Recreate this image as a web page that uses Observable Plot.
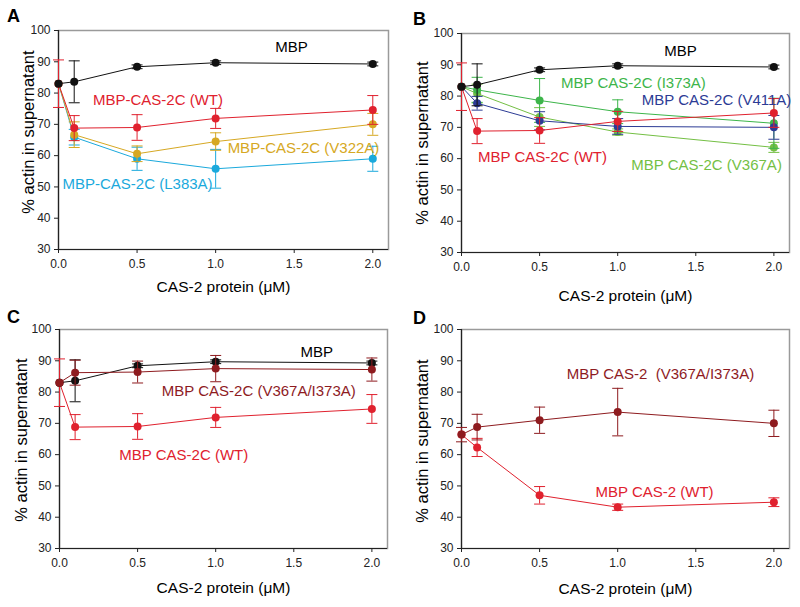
<!DOCTYPE html>
<html>
<head>
<meta charset="utf-8">
<script src="https://cdn.jsdelivr.net/npm/d3@7"></script>
<script src="https://cdn.jsdelivr.net/npm/@observablehq/plot@0.6"></script>
<style>
  body { margin: 0; background: #fff; }
  #wrap { position: relative; width: 800px; height: 607px; background: #fff; overflow: hidden; font-family: "Liberation Sans", Arial, sans-serif; }
  .panel { position: absolute; }
  .letter { position: absolute; font-weight: bold; font-size: 18px; line-height: 1; color: #000; font-family: "Liberation Sans", Arial, sans-serif; }
</style>
</head>
<body>
<div id="wrap"></div>
<script>
// ---------- data ----------
const conc = [0, 0.1, 0.5, 1.0, 2.0];
const yTicks = [30, 40, 50, 60, 70, 80, 90, 100];
const xTicks = [0, 0.5, 1.0, 1.5, 2.0];
const xTitle = "CAS-2 protein (\u03BCM)";
const yTitle = "% actin in supernatant";

// MBP control (panels A, B, C)
const mbpY   = [83.0, 83.6, 88.4, 89.7, 89.3];
const mbpErr = [null, 6.7, 0.6, 0.6, 0.6];

// MBP-CAS-2C wild type (panels A, B, C)
const wtY   = [83.0, 68.8, 69.0, 71.9, 74.6];
const wtErr = [7.6, 4.0, 4.1, 3.2, 4.6];

// Panel A mutants
const v322aY   = [83.0, 66.7, 60.6, 64.5, 70.0];
const v322aErr = [null, 4.1, 2.5, 2.8, 3.5];
const l383aY   = [83.0, 65.9, 59.0, 55.8, 59.0];
const l383aErr = [null, 2.5, 3.7, 6.2, 4.0];

// Panel B mutants
const i373aY   = [83.0, 82.0, 78.6, 75.0, 71.3];
const i373aErr = [null, 4.0, 7.0, 3.8, 8.0];
const v367aY   = [83.0, 80.8, 73.3, 68.5, 63.6];
const v367aErr = [null, 3.0, 3.0, 1.0, 1.6];
const v411aY   = [83.0, 77.7, 72.1, 70.3, 70.0];
const v411aErr = [null, 2.2, 2.9, 2.5, 3.8];

// Panel C double mutant (CAS-2C)
const dblCY   = [83.0, 86.2, 86.4, 87.5, 87.2];
const dblCErr = [null, 4.0, 3.5, 4.2, 3.7];

// Panel D (full-length CAS-2)
const dblDY   = [66.4, 68.8, 71.0, 73.6, 70.0];
const dblDErr = [2.3, 4.1, 4.2, 7.6, 4.2];
const wtDY    = [66.4, 62.3, 47.0, 43.2, 44.8];
const wtDErr  = [null, 2.9, 2.8, 1.0, 1.4];

// ---------- colours ----------
const C_BLACK = "#111111";
const C_RED = "#e0212e";
const C_GOLD = "#d6a823";
const C_CYAN = "#1aa9dc";
const C_GREEN = "#3db54a";
const C_LGREEN = "#74bf44";
const C_BLUE = "#2c3b95";
const C_DRED = "#8e1b1f";

const FONT = "Liberation Sans, Arial, sans-serif";

function rows(ys, errs) {
  return conc.map((x, i) => ({x, y: ys[i], e: errs[i]}));
}

const capSymbol = {
  draw(ctx, size) {
    const r = Math.sqrt(size / Math.PI);
    ctx.moveTo(-r, 0);
    ctx.lineTo(r, 0);
  }
};

function seriesMarks(ys, errs, color) {
  const d = rows(ys, errs);
  const de = d.filter(r => r.e != null);
  return [
    Plot.line(d, {x: "x", y: "y", stroke: color, strokeWidth: 1}),
    Plot.ruleX(de, {x: "x", y1: r => r.y - r.e, y2: r => r.y + r.e, stroke: color, strokeWidth: 1}),
    Plot.dot(de, {x: "x", y: r => r.y - r.e, r: 5.5, symbol: capSymbol, stroke: color, fill: "none", strokeWidth: 1}),
    Plot.dot(de, {x: "x", y: r => r.y + r.e, r: 5.5, symbol: capSymbol, stroke: color, fill: "none", strokeWidth: 1}),
    Plot.dot(d, {x: "x", y: "y", r: 4, fill: color, stroke: "none"})
  ];
}

function panel(cfg) {
  const marks = [
    Plot.frame({stroke: "#9a9a9a", strokeWidth: 1.5}),
    Plot.ruleX([0], {stroke: "#222", strokeWidth: 1.2}),
    Plot.ruleY([30], {stroke: "#222", strokeWidth: 1.2}),
    Plot.axisY({ticks: yTicks, tickSize: 4, tickPadding: 4, fontSize: 12, label: null, fill: "#222", stroke: "#222"}),
    Plot.axisX({ticks: xTicks, tickSize: 4, tickPadding: 6, fontSize: 12, label: null, tickFormat: d3.format(".1f"), fill: "#222", stroke: "#222"}),
    Plot.text([yTitle], {frameAnchor: "left", textAnchor: "middle", lineAnchor: "middle", rotate: -90, dx: cfg.yDx, dy: cfg.yDy, fontSize: 16.5, fill: "#000"}),
    Plot.text([xTitle], {frameAnchor: "bottom", textAnchor: "middle", lineAnchor: "middle", dy: cfg.xDy, fontSize: 15.5, fill: "#000"})
  ];
  for (const s of cfg.series) marks.push(...seriesMarks(s.y, s.err, s.color));
  for (const l of cfg.labels) {
    marks.push(Plot.text([l], {x: d => d.x, y: d => d.y, text: d => d.t, fill: l.c, fontSize: 15}));
  }
  return Plot.plot({
    width: 400,
    height: cfg.height,
    marginLeft: cfg.ml, marginRight: cfg.mr, marginTop: cfg.mt, marginBottom: cfg.mb,
    x: {domain: [0, 2.1]},
    y: {domain: [30, 100]},
    style: {fontFamily: FONT, background: "transparent", overflow: "visible"},
    marks
  });
}

const panels = [
  {
    letter: "A", left: 0, top: 0, lx: 7, ly: 7,
    height: 300, ml: 58, mr: 12, mt: 30, mb: 51, yDx: -30, yDy: -8, xDy: 38,
    series: [
      {y: l383aY, err: l383aErr, color: C_CYAN},
      {y: v322aY, err: v322aErr, color: C_GOLD},
      {y: wtY, err: wtErr, color: C_RED},
      {y: mbpY, err: mbpErr, color: C_BLACK}
    ],
    labels: [
      {t: "MBP", x: 1.483, y: 94.6, c: "#000"},
      {t: "MBP-CAS-2C (WT)", x: 0.633, y: 77.6, c: C_RED},
      {t: "MBP-CAS-2C (V322A)", x: 1.559, y: 62.3, c: C_GOLD},
      {t: "MBP-CAS-2C (L383A)", x: 0.503, y: 50.8, c: C_CYAN}
    ]
  },
  {
    letter: "B", left: 400, top: 0, lx: 13, ly: 10,
    height: 300, ml: 61, mr: 11, mt: 33, mb: 48, yDx: -39, yDy: 0, xDy: 44,
    series: [
      {y: v367aY, err: v367aErr, color: C_LGREEN},
      {y: i373aY, err: i373aErr, color: C_GREEN},
      {y: v411aY, err: v411aErr, color: C_BLUE},
      {y: wtY, err: wtErr, color: C_RED},
      {y: mbpY, err: mbpErr, color: C_BLACK}
    ],
    labels: [
      {t: "MBP", x: 1.402, y: 94.5, c: "#000"},
      {t: "MBP CAS-2C (I373A)", x: 1.101, y: 84.2, c: C_GREEN},
      {t: "MBP CAS-2C (V411A)", x: 1.633, y: 78.8, c: C_BLUE},
      {t: "MBP CAS-2C (WT)", x: 0.519, y: 60.6, c: C_RED},
      {t: "MBP CAS-2C (V367A)", x: 1.569, y: 58.0, c: C_LGREEN}
    ]
  },
  {
    letter: "C", left: 0, top: 300, lx: 7, ly: 8,
    height: 307, ml: 59, mr: 13, mt: 29, mb: 59, yDx: -38, yDy: 1, xDy: 40,
    series: [
      {y: wtY, err: wtErr, color: C_RED},
      {y: mbpY, err: mbpErr, color: C_BLACK},
      {y: dblCY, err: dblCErr, color: C_DRED}
    ],
    labels: [
      {t: "MBP", x: 1.647, y: 92.6, c: "#000"},
      {t: "MBP CAS-2C (V367A/I373A)", x: 1.276, y: 80.2, c: C_DRED},
      {t: "MBP CAS-2C (WT)", x: 0.796, y: 59.7, c: C_RED}
    ]
  },
  {
    letter: "D", left: 400, top: 300, lx: 13, ly: 9,
    height: 307, ml: 61, mr: 11, mt: 29, mb: 59, yDx: -39, yDy: 2, xDy: 41,
    series: [
      {y: wtDY, err: wtDErr, color: C_RED},
      {y: dblDY, err: dblDErr, color: C_DRED}
    ],
    labels: [
      {t: "MBP CAS-2  (V367A/I373A)", x: 1.274, y: 85.6, c: C_DRED},
      {t: "MBP CAS-2 (WT)", x: 1.236, y: 47.9, c: C_RED}
    ]
  }
];

const wrap = document.getElementById("wrap");
for (const p of panels) {
  const div = document.createElement("div");
  div.className = "panel";
  div.style.left = p.left + "px";
  div.style.top = p.top + "px";
  div.appendChild(panel(p));
  wrap.appendChild(div);
  const letter = document.createElement("div");
  letter.className = "letter";
  letter.textContent = p.letter;
  letter.style.left = (p.left + p.lx) + "px";
  letter.style.top = (p.top + p.ly) + "px";
  wrap.appendChild(letter);
}
</script>
</body>
</html>
